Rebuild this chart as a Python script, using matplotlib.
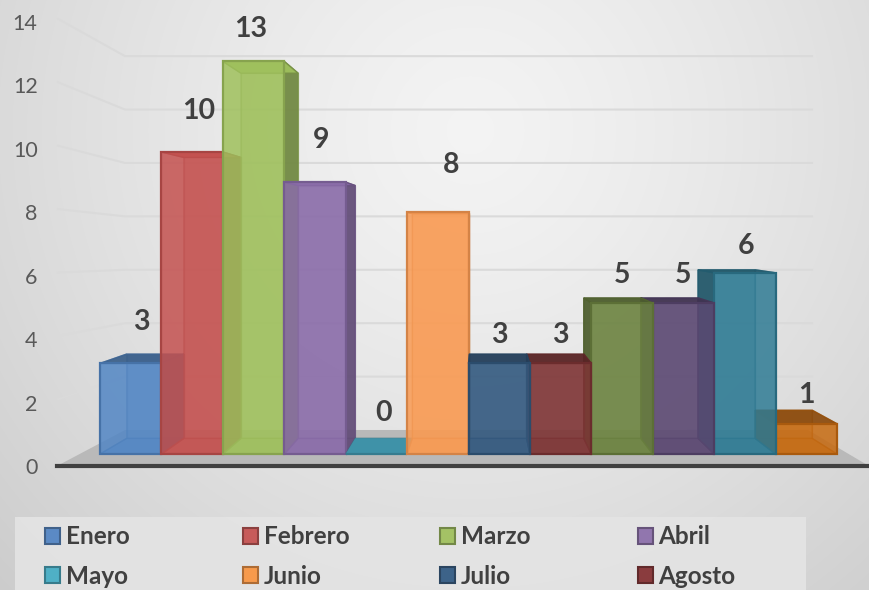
import numpy as np
import matplotlib
matplotlib.use("Agg")
import matplotlib.pyplot as plt
from matplotlib.patches import Polygon, Rectangle
from matplotlib.colors import to_rgb

months = ["Enero", "Febrero", "Marzo", "Abril", "Mayo", "Junio", "Julio", "Agosto"]
values = [3, 10, 13, 9, 0, 8, 3, 3, 5, 5, 6, 1]
colors = ["#5286c4", "#c4514f", "#9fc05c", "#8a6ca9", "#3f92a8", "#f99a52",
          "#33597f", "#7e3435", "#6c8340", "#5b4872", "#2f7b94", "#c76a10"]
legend_colors = ["#5b8ac5", "#c75b5a", "#a4c265", "#9176ae", "#4fb0c6", "#f79a4c",
                 "#3d6389", "#8a3c3e"]
y_ticks = [0, 2, 4, 6, 8, 10, 12, 14]

# label offsets from the bar top centre, in pixels
label_dx = [11, 7, -3, 6, 7, 13, 0, 0, 0, 0, 1, 0]
label_dy = [41, 41, 32, 42, 41, 47, 28, 28, 28, 28, 27, 29]

W, H = 869, 590
plt.rcParams["font.family"] = ["Lato", "DejaVu Sans"]
text_color = "#404040"
fig = plt.figure(figsize=(W / 100, H / 100), dpi=100)

# background gradient
yy, xx = np.mgrid[0:H, 0:W]
r = np.sqrt(((xx - 470) / 560.0) ** 2 + ((yy - 130) / 560.0) ** 2)
g = np.clip(0.955 - 0.125 * r ** 1.3, 0, 1)
fig.figimage(np.dstack([g, g, g]), zorder=-1)

# wall and floor, axis scale of the front plane
px_x0, px_y0, px_y14 = 57, 466, 22
wall = fig.add_axes([px_x0 / W, (H - px_y0) / H, (W - px_x0) / W, (px_y0 - px_y14) / H])
wall.patch.set_alpha(0)
wall.set_xlim(0, W - px_x0)
wall.set_ylim(0, 14)
wall.set_xticks([])
wall.set_yticks(y_ticks)
wall.tick_params(axis="y", length=0, pad=14, labelsize=15.5, labelcolor="#595959")
for s in ["top", "right", "left"]:
    wall.spines[s].set_visible(False)
wall.spines["bottom"].set_linewidth(3)
wall.spines["bottom"].set_color("#404040")
wall.spines["bottom"].set_zorder(5)

back0 = 36 / 31.71
back_scale = 26.7 / 31.71
wall.add_patch(Polygon([(0, 0), (68, back0), (751, back0), (812, 0)], fc="#b9b9b9", ec="none", zorder=1))
for t in y_ticks[1:]:
    wb = back0 + t * back_scale
    wall.plot([1, 68, 755], [t + 0.1, wb, wb], color="#dadada", lw=1.5, zorder=0.5, clip_on=False)

# bars, x in bar widths and y in values
bar_w, bar_h = 61.42, 30.2
x_left, y_base = 100, 454
ax = fig.add_axes([0, 0, 1, 1])
ax.patch.set_alpha(0)
ax.set_xlim(-x_left / bar_w, (W - x_left) / bar_w)
ax.set_ylim((y_base - H) / bar_h, y_base / bar_h)
ax.axis("off")

vp = ((482 - x_left) / bar_w, (y_base - 230) / bar_h)
depth = 0.93


def to_back(x, y):
    return vp[0] + depth * (x - vp[0]), vp[1] + depth * (y - vp[1])


def shade(c, f):
    return tuple(v * f for v in to_rgb(c))


# bars nearest the centre of the view are drawn last
order = sorted(range(len(values)), key=lambda k: -abs(k + 0.5 - vp[0]))
bars = ax.bar(range(len(values)), values, width=1, align="edge", color=colors, alpha=0.85,
              edgecolor="none", zorder=2)

for n, i in enumerate(order):
    v, c = values[i], colors[i]
    xl, xr = i, i + 1
    z = 2 + n
    edge = shade(c, 0.75)
    dark = shade(c, 0.7)
    bl = to_back(xl, 0)
    br = to_back(xr, 0)
    tl = to_back(xl, v)
    tr = to_back(xr, v)
    # back and bottom
    ax.add_patch(Polygon([bl, br, tr, tl], fc=c, ec=edge, alpha=0.35, lw=1, zorder=z))
    ax.add_patch(Polygon([(xl, 0), (xr, 0), br, bl], fc=c, ec=edge, alpha=0.55, lw=1, zorder=z))
    # side that shows from outside is dark, the other one only has its edges
    if v > 0:
        left_out = bl[0] < xl
        right_out = br[0] > xr
        ax.add_patch(Polygon([(xl, 0), bl, tl, (xl, v)], fc=dark if left_out else "none", ec=edge,
                             alpha=0.9 if left_out else 0.5, lw=1, zorder=z))
        ax.add_patch(Polygon([(xr, 0), br, tr, (xr, v)], fc=dark if right_out else "none", ec=edge,
                             alpha=0.9 if right_out else 0.5, lw=1, zorder=z))
        top_out = tl[1] > v
        ax.add_patch(Polygon([(xl, v), (xr, v), tr, tl], fc=dark if top_out else c, ec=edge,
                             alpha=0.92, lw=1, zorder=z))
    else:
        ax.add_patch(Polygon([(xl, v), (xr, v), tr, tl], fc=c, ec="none", zorder=z))
    b = bars[i]
    b.set_zorder(z + 0.5)
    # opaque outline on top of the translucent face
    ax.add_patch(Rectangle(b.get_xy(), b.get_width(), b.get_height(), fc="none",
                           ec=shade(c, 0.85), lw=1.6, zorder=z + 0.6))

for i, v in enumerate(values):
    ax.text(i + 0.5 + label_dx[i] / bar_w, v + label_dy[i] / bar_h, str(v),
            ha="center", va="center", fontsize=20.5, fontweight="bold", color=text_color, zorder=30)

# legend panel, cut by the bottom of the picture
leg = fig.add_axes([0, 0, 1, 1])
leg.patch.set_alpha(0)
leg.set_xlim(0, W)
leg.set_ylim(H, 0)
leg.axis("off")
leg.add_patch(Rectangle((15, 517), 791, 73, fc="#e4e4e4", ec="none", alpha=0.9))
for i, (name, c) in enumerate(zip(months, legend_colors)):
    col, row = i % 4, i // 4
    lx = 45 + col * 197.5
    ly = 536 + row * 39
    leg.add_patch(Rectangle((lx, ly - 8), 15, 16, fc=c, ec=shade(c, 0.7), lw=1.5))
    leg.text(lx + 21, ly + 1, name, ha="left", va="center", fontsize=17.5, fontweight="bold", color=text_color)

fig.savefig("out.png", dpi=100)
